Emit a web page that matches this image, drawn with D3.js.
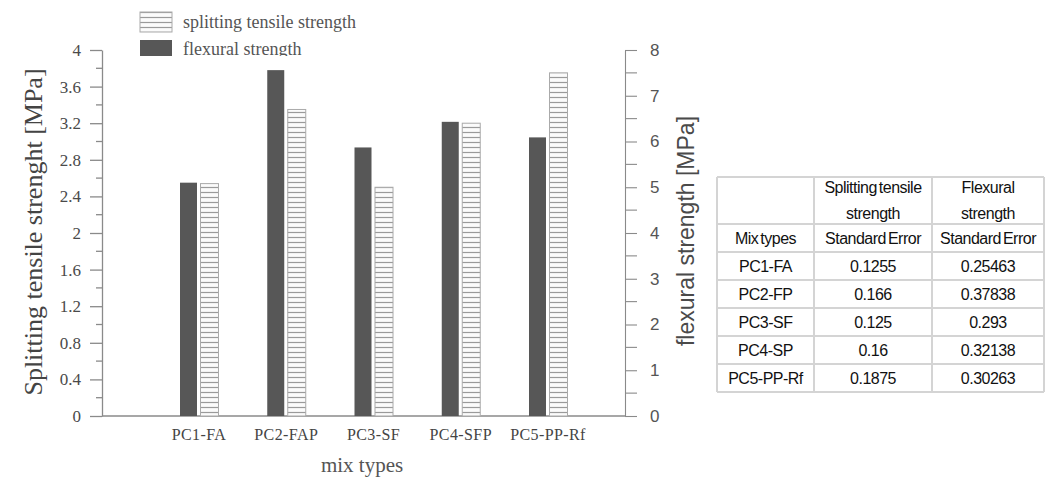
<!DOCTYPE html>
<html>
<head>
<meta charset="utf-8">
<script src="https://cdn.jsdelivr.net/npm/d3@7"></script>
<style>
  body { margin: 0; background: #fff; }
  svg { display: block; }
</style>
</head>
<body>
<div id="chart"></div>
<script>
// values
const mixLabels = ["PC1-FA", "PC2-FAP", "PC3-SF", "PC4-SFP", "PC5-PP-Rf"];
const splitting = [2.54, 3.35, 2.5, 3.2, 3.75];
const flexural = [5.1, 7.56, 5.87, 6.43, 6.09];
const leftTicks = [0, 0.4, 0.8, 1.2, 1.6, 2, 2.4, 2.8, 3.2, 3.6, 4];
const rightTicks = [0, 1, 2, 3, 4, 5, 6, 7, 8];

// table
const tableHead = ["Splitting tensile|strength", "Flexural|strength"];
const tableSub = ["Mix types", "Standard Error", "Standard Error"];
const tableMix = ["PC1-FA", "PC2-FP", "PC3-SF", "PC4-SP", "PC5-PP-Rf"];
const splitErr = ["0.1255", "0.166", "0.125", "0.16", "0.1875"];
const flexErr = ["0.25463", "0.37838", "0.293", "0.32138", "0.30263"];

const W = 1050, H = 477;
const svg = d3.select("#chart").append("svg").attr("width", W).attr("height", H);
svg.append("rect").attr("width", W).attr("height", H).attr("fill", "#fff");

const axisCol = "#8a8a8a";
const serif = "'Liberation Serif', 'DejaVu Serif', serif";
const sans = "'Liberation Sans', Arial, sans-serif";

const y0 = 416, y1 = 50, xL = 102, xR = 625;
const yL = d3.scaleLinear().domain([0, 4]).range([y0, y1]);
const yR = d3.scaleLinear().domain([0, 8]).range([y0, y1]);
const x = d3.scalePoint().domain(mixLabels).range([199, 548]);

// hatch pattern for splitting tensile bars
const defs = svg.append("defs");
const pat = defs.append("pattern")
  .attr("id", "hatch").attr("patternUnits", "userSpaceOnUse")
  .attr("width", 6).attr("height", 5);
pat.append("rect").attr("width", 6).attr("height", 5).attr("fill", "#fbfbfb");
pat.append("line").attr("x1", 0).attr("x2", 6).attr("y1", 2.5).attr("y2", 2.5)
  .attr("stroke", "#9a9a9a").attr("stroke-width", 1.2);

defs.append("clipPath").attr("id", "legclip")
  .append("rect").attr("x", 130).attr("y", 0).attr("width", 260).attr("height", 56);

// left axis
const gl = svg.append("g").attr("transform", "translate(" + xL + ",0)");
gl.call(d3.axisLeft(yL).tickValues(leftTicks).tickFormat(d3.format("~g")).tickSize(12).tickSizeOuter(0));
gl.append("g").selectAll("line")
  .data(d3.range(0.2, 4, 0.4)).enter().append("line")
  .attr("x1", -6).attr("x2", 0)
  .attr("y1", function (d) { return yL(d); }).attr("y2", function (d) { return yL(d); })
  .attr("stroke", axisCol);
gl.selectAll("path, line").attr("stroke", axisCol).attr("stroke-width", 1.3);
gl.selectAll("text").attr("font-family", serif).attr("font-size", 17).attr("fill", "#4a4a4a").attr("x", -21);

// right axis
const gr = svg.append("g").attr("transform", "translate(" + xR + ",0)");
gr.call(d3.axisRight(yR).tickValues(rightTicks).tickFormat(d3.format("d")).tickSize(12).tickSizeOuter(0));
gr.append("g").selectAll("line")
  .data(d3.range(0.5, 8, 1)).enter().append("line")
  .attr("x1", 0).attr("x2", 12)
  .attr("y1", function (d) { return yR(d); }).attr("y2", function (d) { return yR(d); })
  .attr("stroke", axisCol);
gr.selectAll("path, line").attr("stroke", axisCol).attr("stroke-width", 1.1);
gr.selectAll("text").attr("font-family", sans).attr("font-size", 17).attr("fill", "#555").attr("x", 25);

// bottom axis line
svg.append("line").attr("x1", xL).attr("x2", xR).attr("y1", y0).attr("y2", y0)
  .attr("stroke", axisCol).attr("stroke-width", 1.5);

// bars
svg.append("g").selectAll("rect")
  .data(flexural).enter().append("rect")
  .attr("x", function (d, i) { return x(mixLabels[i]) - 19; })
  .attr("y", function (d) { return yR(d); })
  .attr("width", 17)
  .attr("height", function (d) { return y0 - yR(d); })
  .attr("fill", "#575757");

svg.append("g").selectAll("rect")
  .data(splitting).enter().append("rect")
  .attr("x", function (d, i) { return x(mixLabels[i]) + 1.5; })
  .attr("y", function (d) { return yL(d); })
  .attr("width", 18)
  .attr("height", function (d) { return y0 - yL(d); })
  .attr("fill", "url(#hatch)")
  .attr("stroke", "#aaa").attr("stroke-width", 1);

// category labels
svg.append("g").selectAll("text")
  .data(mixLabels).enter().append("text")
  .attr("x", function (d) { return x(d); })
  .attr("y", 440)
  .attr("text-anchor", "middle")
  .attr("font-family", serif).attr("font-size", 16).attr("fill", "#444")
  .attr("letter-spacing", 0.4)
  .text(function (d) { return d; });

svg.append("text").attr("x", 362).attr("y", 472).attr("text-anchor", "middle")
  .attr("font-family", serif).attr("font-size", 21).attr("fill", "#555")
  .text("mix types");

// axis titles
svg.append("text")
  .attr("transform", "translate(42,232) rotate(-90)")
  .attr("text-anchor", "middle")
  .attr("font-family", serif).attr("font-size", 26).attr("fill", "#444")
  .text("Splitting tensile strenght [MPa]");

svg.append("text")
  .attr("transform", "translate(694,231) rotate(-90)")
  .attr("text-anchor", "middle")
  .attr("font-family", sans).attr("font-size", 23).attr("fill", "#4a4a4a")
  .text("flexural strength [MPa]");

// legend
const leg = svg.append("g").attr("clip-path", "url(#legclip)");
leg.append("rect").attr("x", 140).attr("y", 12).attr("width", 32).attr("height", 20)
  .attr("fill", "url(#hatch)").attr("stroke", "#aaa");
leg.append("rect").attr("x", 140).attr("y", 40).attr("width", 32).attr("height", 20)
  .attr("fill", "#575757");
leg.append("text").attr("x", 183).attr("y", 28)
  .attr("font-family", serif).attr("font-size", 18).attr("fill", "#555")
  .text("splitting tensile strength");
leg.append("text").attr("x", 183).attr("y", 55)
  .attr("font-family", serif).attr("font-size", 18).attr("fill", "#555")
  .text("flexural strength");

// table
const colX = [717, 814, 932, 1044];
const rowY = [177, 224, 252, 280, 308, 336, 364, 392];
const tg = svg.append("g");
tg.selectAll("line.v").data(colX).enter().append("line")
  .attr("x1", function (d) { return d; }).attr("x2", function (d) { return d; })
  .attr("y1", rowY[0]).attr("y2", rowY[rowY.length - 1])
  .attr("stroke", "#d4d4d4").attr("stroke-width", 2);
tg.selectAll("line.h").data(rowY).enter().append("line")
  .attr("x1", colX[0]).attr("x2", colX[3])
  .attr("y1", function (d) { return d; }).attr("y2", function (d) { return d; })
  .attr("stroke", "#d4d4d4").attr("stroke-width", 2);

const colMid = function (c) { return (colX[c] + colX[c + 1]) / 2; };
const cellText = function (c, yy, s) {
  tg.append("text").attr("x", colMid(c)).attr("y", yy)
    .attr("text-anchor", "middle")
    .attr("font-family", sans).attr("font-size", 16).attr("fill", "#111")
    .attr("letter-spacing", -0.5).attr("word-spacing", -2)
    .text(s);
};
tableHead.forEach(function (h, i) {
  const parts = h.split("|");
  cellText(i + 1, 193, parts[0]);
  cellText(i + 1, 219, parts[1]);
});
tableSub.forEach(function (s, i) { cellText(i, 244, s); });
tableMix.forEach(function (m, r) {
  const yy = (rowY[r + 2] + rowY[r + 3]) / 2 + 6;
  cellText(0, yy, m);
  cellText(1, yy, splitErr[r]);
  cellText(2, yy, flexErr[r]);
});
</script>
</body>
</html>
